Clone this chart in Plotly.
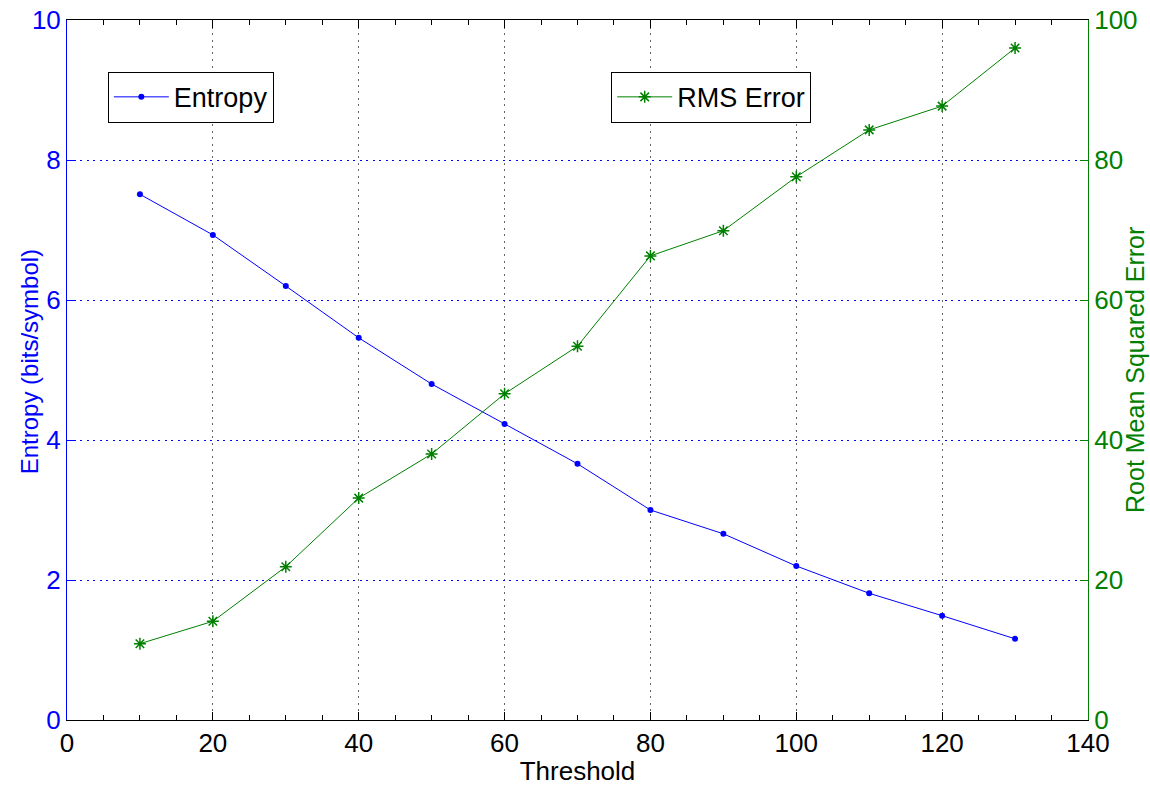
import plotly.graph_objects as go

threshold = [10, 20, 30, 40, 50, 60, 70, 80, 90, 100, 110, 120, 130]
entropy = [7.51, 6.93, 6.20, 5.46, 4.80, 4.23, 3.66, 3.00, 2.66, 2.20, 1.81, 1.49, 1.16]
rms_error = [10.9, 14.1, 21.9, 31.7, 38.0, 46.6, 53.4, 66.3, 69.9, 77.6, 84.3, 87.7, 96.0]

BLUE = "#0000FF"
GREEN = "#008000"
FONT = "Liberation Sans, Arial, sans-serif"

fig = go.Figure()
fig.add_trace(go.Scatter(
    x=threshold, y=entropy, name="Entropy", mode="lines+markers",
    line=dict(color=BLUE, width=1),
    marker=dict(symbol="circle", size=6, color=BLUE),
    legend="legend", yaxis="y"))
fig.add_trace(go.Scatter(
    x=threshold, y=rms_error, name="RMS Error", mode="lines+markers",
    line=dict(color=GREEN, width=1),
    marker=dict(symbol="asterisk-open", size=10, color=GREEN, line=dict(color=GREEN, width=1.5)),
    legend="legend2", yaxis="y2"))

fig.update_layout(
    width=1150, height=786,
    margin=dict(l=67, r=62, t=20, b=66),
    paper_bgcolor="white", plot_bgcolor="white",
    font=dict(family=FONT, size=26, color="black"),
    xaxis=dict(
        range=[0, 140], dtick=20, tick0=0, automargin=False,
        showline=True, linecolor="black", linewidth=1, mirror="ticks",
        ticks="inside", ticklen=8, tickcolor="black",
        minor=dict(dtick=5, ticks="inside", ticklen=5, tickcolor="black", showgrid=False),
        showgrid=True, gridcolor="#666666", griddash="2px,4.5px", gridwidth=1,
        zeroline=False,
        tickfont=dict(size=26, color="black"),
        title=dict(text="Threshold", font=dict(size=26, color="black"), standoff=6),
    ),
    yaxis=dict(
        range=[0, 10], dtick=2, tick0=0, automargin=False,
        showline=True, linecolor=BLUE, linewidth=1,
        ticks="inside", ticklen=8, tickcolor=BLUE,
        showgrid=True, gridcolor=BLUE, griddash="2px,4.5px", gridwidth=1,
        zeroline=False,
        tickfont=dict(size=26, color=BLUE),
    ),
    yaxis2=dict(
        range=[0, 100], dtick=20, tick0=0, automargin=False,
        overlaying="y", side="right",
        showline=True, linecolor=GREEN, linewidth=1,
        ticks="inside", ticklen=8, tickcolor=GREEN,
        showgrid=False, zeroline=False,
        tickfont=dict(size=26, color=GREEN),
    ),
    legend=dict(
        x=0.040, y=0.926, xanchor="left", yanchor="top",
        bgcolor="white", bordercolor="black", borderwidth=1,
        itemwidth=55,
        font=dict(size=27, color="black"),
    ),
    legend2=dict(
        x=0.533, y=0.926, xanchor="left", yanchor="top",
        bgcolor="white", bordercolor="black", borderwidth=1,
        itemwidth=55,
        font=dict(size=27, color="black"),
    ),
    showlegend=True,
    annotations=[
        dict(text="Entropy (bits/symbol)", textangle=-90, showarrow=False,
             xref="paper", yref="paper", x=-0.0372, y=0.511,
             xanchor="center", yanchor="middle",
             font=dict(size=24, color=BLUE, family=FONT)),
        dict(text="Root Mean Squared Error", textangle=-90, showarrow=False,
             xref="paper", yref="paper", x=1.046, y=0.50,
             xanchor="center", yanchor="middle",
             font=dict(size=25, color=GREEN, family=FONT)),
    ],
)

fig.write_html("out.html")
